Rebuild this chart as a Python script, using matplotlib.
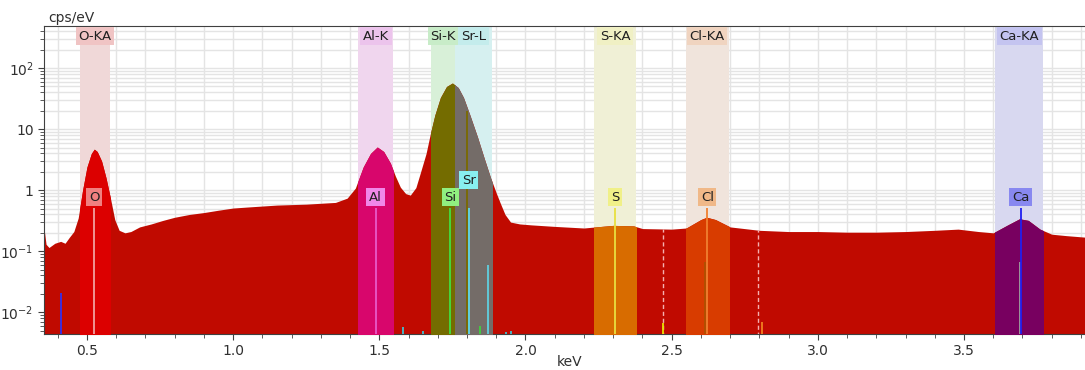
import matplotlib
matplotlib.use("Agg")
import matplotlib.pyplot as plt
from matplotlib.patches import Rectangle
from matplotlib.ticker import FixedLocator, FixedFormatter, MultipleLocator, LogLocator, NullFormatter

# spectrum (keV, cps/eV)
energy = [0.353, 0.36, 0.37, 0.39, 0.41, 0.425, 0.44, 0.455, 0.47, 0.485,
          0.50, 0.515, 0.525, 0.535, 0.55, 0.565, 0.58, 0.595, 0.61, 0.63,
          0.65, 0.68, 0.72, 0.76, 0.80, 0.85, 0.90, 0.95, 1.00, 1.05,
          1.10, 1.15, 1.20, 1.25, 1.30, 1.35, 1.39, 1.418, 1.445, 1.47,
          1.493, 1.515, 1.538, 1.555, 1.572, 1.59, 1.606, 1.625, 1.64, 1.66,
          1.675, 1.69, 1.709, 1.73, 1.75, 1.77, 1.788, 1.81, 1.836, 1.86,
          1.88, 1.90, 1.914, 1.93, 1.949, 1.98, 2.02, 2.10, 2.20, 2.24,
          2.30, 2.37, 2.40, 2.50, 2.55, 2.60, 2.62, 2.65, 2.70, 2.80,
          2.90, 3.00, 3.10, 3.20, 3.30, 3.40, 3.48, 3.55, 3.60, 3.65,
          3.69, 3.72, 3.76, 3.80, 3.85, 3.914]
counts = [0.24, 0.13, 0.115, 0.135, 0.145, 0.135, 0.17, 0.21, 0.35, 1.0,
          2.4, 4.0, 4.7, 4.3, 3.0, 1.6, 0.75, 0.33, 0.22, 0.20,
          0.21, 0.25, 0.28, 0.32, 0.36, 0.40, 0.43, 0.47, 0.51, 0.53,
          0.55, 0.57, 0.58, 0.59, 0.61, 0.63, 0.74, 1.08, 2.4, 4.0,
          5.1, 4.3, 2.77, 1.7, 1.12, 0.88, 0.83, 1.1, 1.9, 4.0,
          8.6, 17, 33, 50, 57, 48, 33, 17, 7.4, 3.2,
          1.63, 0.9, 0.61, 0.40, 0.30, 0.28, 0.27, 0.255, 0.24, 0.25,
          0.265, 0.26, 0.235, 0.23, 0.24, 0.33, 0.36, 0.33, 0.25, 0.22,
          0.21, 0.21, 0.205, 0.205, 0.21, 0.22, 0.23, 0.21, 0.20, 0.27,
          0.34, 0.32, 0.23, 0.19, 0.18, 0.17]

# regions of interest
roi_names = ["O-KA", "Al-K", "Si-K", "Sr-L", "S-KA", "Cl-KA", "Ca-KA"]
roi_lo = [0.477, 1.428, 1.678, 1.760, 2.236, 2.548, 3.606]
roi_hi = [0.578, 1.548, 1.760, 1.885, 2.377, 2.695, 3.771]
roi_bg = ["#f0d8d8", "#f0d6ee", "#d8f0d8", "#d6f0f0", "#f0f0d6", "#f0e4dc", "#d8d8f0"]
roi_box = ["#f0c4c4", "#ecc4ec", "#c8ecc8", "#c4ecec", "#f0f0c4", "#f0d4c0", "#c4c4f0"]
roi_fill = ["#dc0000", "#d8066c", "#746c00", "#746c68", "#d86c00", "#d83c00", "#780060"]

# element markers
el_names = ["O", "Al", "Si", "Sr", "S", "Cl", "Ca"]
el_energy = [0.525, 1.487, 1.743, 1.806, 2.307, 2.622, 3.694]
el_line = ["#f0a0a0", "#e858c8", "#40e040", "#60d8e8", "#e8e040", "#f08030", "#2020f0"]
el_box = ["#f08080", "#f088e8", "#90f080", "#88f0f0", "#f0f088", "#f0b888", "#8888f0"]
el_label_y = [0.77, 0.77, 0.77, 1.45, 0.77, 0.77, 0.77]

# small extra lines (keV, height, colour)
extra_e = [0.41, 1.581, 1.65, 1.80, 1.845, 1.872, 1.935, 1.95, 2.472, 2.615, 2.81, 3.69]
extra_h = [0.021, 0.0057, 0.005, 20, 0.006, 0.06, 0.0048, 0.005, 0.0066, 0.066, 0.007, 0.066]
extra_c = ["#3030f0", "#40c0d0", "#40c0d0", "#7a6a00", "#40d040", "#60d0e0", "#40c0d0",
           "#40c0d0", "#e8e000", "#b05000", "#f08020", "#a0a0a0"]

# dashed escape-peak markers
dash_e = [2.472, 2.795]
dash_h = [0.23, 0.22]

fig = plt.figure(figsize=(10.85, 3.70), dpi=100)
ax = fig.add_axes([44 / 1085, 36 / 370, 1 - 44 / 1085, 308 / 370])
ax.set_yscale("log")
ymin, ymax = 0.0044, 490
ax.set_xlim(0.353, 3.914)
ax.set_ylim(ymin, ymax)

floor = 1e-4
for lo, hi, bg in zip(roi_lo, roi_hi, roi_bg):
    ax.axvspan(lo, hi, color=bg, zorder=1, lw=0)

ax.fill_between(energy, floor, counts, color="#c00a00", lw=0, zorder=2)
for lo, hi, fc in zip(roi_lo, roi_hi, roi_fill):
    poly = ax.fill_between(energy, floor, counts, color=fc, lw=0, zorder=3)
    clip = Rectangle((lo, ymin), hi - lo, ymax - ymin, transform=ax.transData)
    poly.set_clip_path(clip)

for e, h in zip(dash_e, dash_h):
    ax.vlines(e, floor, h, colors="#f4b0b0", linestyles=(0, (3, 2)), lw=1, zorder=4)

for e, h, c in zip(extra_e, extra_h, extra_c):
    ax.vlines(e, floor, h, colors=c, lw=1.3, zorder=4)

for name, e, lc, bc, ly in zip(el_names, el_energy, el_line, el_box, el_label_y):
    ax.vlines(e, floor, 0.51, colors=lc, lw=1.3, zorder=5)
    ax.text(e, ly, name, ha="center", va="center", fontsize=9.5, color="#202020", zorder=6,
            bbox=dict(boxstyle="square,pad=0.2", fc=bc, ec="none"))

for i, (name, lo, hi, bc) in enumerate(zip(roi_names, roi_lo, roi_hi, roi_box)):
    ax.text((lo + hi) / 2, 0.967, name, transform=ax.get_xaxis_transform(),
            ha="center", va="center", fontsize=9.5, color="#202020", zorder=6 + i,
            bbox=dict(boxstyle="square,pad=0.2", fc=bc, ec="none"))

# axes styling
ax.xaxis.set_major_locator(MultipleLocator(0.5))
ax.xaxis.set_minor_locator(MultipleLocator(0.1))
ax.xaxis.set_major_formatter(matplotlib.ticker.FormatStrFormatter("%.1f"))
ax.yaxis.set_major_locator(FixedLocator([0.01, 0.1, 1, 10, 100]))
ax.yaxis.set_major_formatter(FixedFormatter(["$10^{-2}$", "$10^{-1}$", "1", "10", "$10^{2}$"]))
ax.yaxis.set_minor_locator(LogLocator(base=10, subs=range(2, 10)))
ax.yaxis.set_minor_formatter(NullFormatter())

ax.grid(True, which="both", color="#e4e4e4", lw=1, zorder=0)
ax.set_axisbelow(True)
ax.tick_params(axis="both", which="major", labelsize=10, colors="#404040", labelcolor="#303030",
               length=4, direction="out")
ax.tick_params(axis="both", which="minor", colors="#404040", length=3, direction="out")
for s in ["left", "bottom", "top"]:
    ax.spines[s].set_color("#404040")
ax.spines["right"].set_visible(False)

ax.text(0.004, 1.004, "cps/eV", transform=ax.transAxes, ha="left", va="bottom",
        fontsize=10, color="#303030")
fig.text(570 / 1085, 1 - 362 / 370, "keV", ha="center", va="center", fontsize=10, color="#303030")

fig.savefig("out.png", dpi=100)
